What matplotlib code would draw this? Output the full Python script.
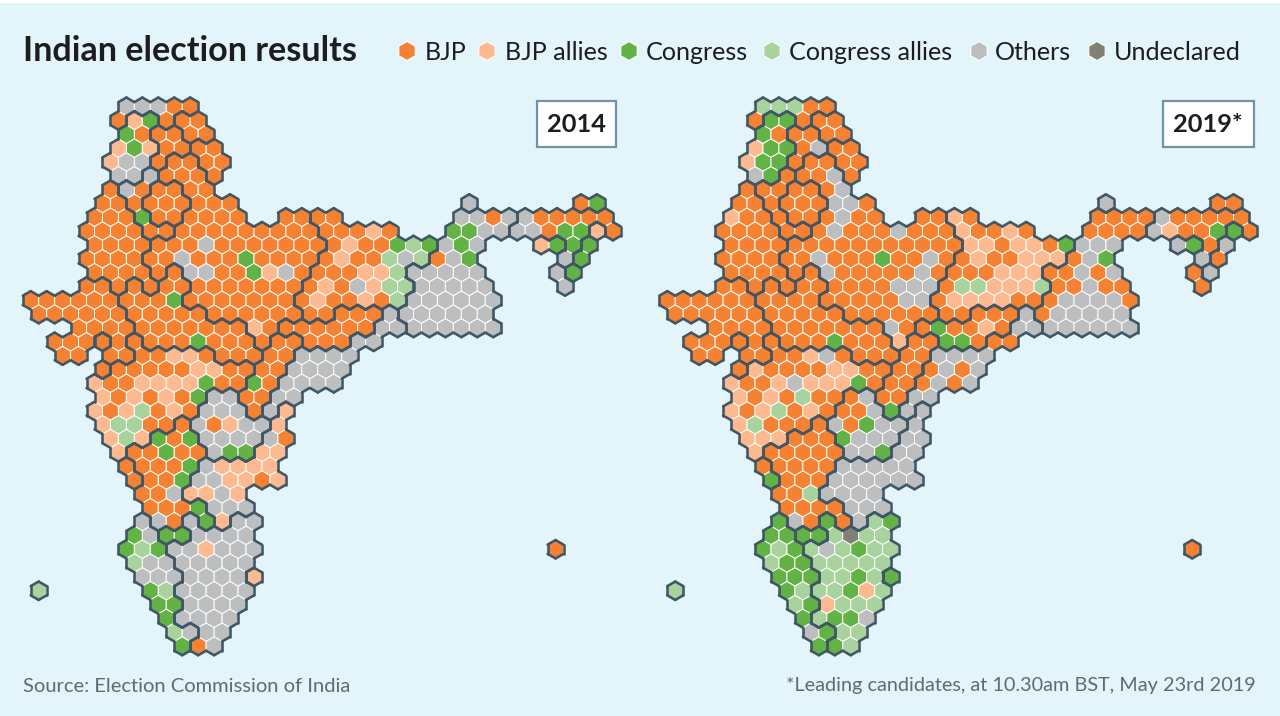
import math
import matplotlib
matplotlib.use("Agg")
import matplotlib.pyplot as plt
from matplotlib.collections import PolyCollection, LineCollection
from matplotlib.patches import Rectangle

TITLE = "Indian election results"
SOURCE = "Source: Election Commission of India"
NOTE = "*Leading candidates, at 10.30am BST, May 23rd 2019"
YEARS = ["2014", "2019*"]

CODES = ["B", "b", "C", "c", "O", "U"]
NAMES = ["BJP", "BJP allies", "Congress", "Congress allies", "Others", "Undeclared"]
COLORS = ["#f58233", "#fdb98f", "#62b246", "#a8d39c", "#bcbec0", "#7f8272"]

# one string per hexagon row; position i is column 2i on even rows, 2i+1 on odd rows
SEATS_2014 = [
    "......OOOBB",
    ".....BbCBBB",
    "......CBBBBB",
    ".....bCbBBBB",
    ".....bOOBBBBB",
    ".....OOOBBBB",
    ".....BOBBBBB",
    "....BBBBBBBBB..............O......BC",
    "....BBBCBBBBBB..BBBB.......OOBOOBBBBB",
    "...BBBBBBBBBBBBBBBBBBbB...CCOOOOBCCbB",
    "....BBBBBBBOBBBBBBBBbBBCcCOCO...bCCC",
    "...BBBBBBOBBBCBBBBBbBBcOcBOC.....OC",
    "....BBBBBBOOBBCbOBBBBbbcOOOOO....OC",
    "...BBBBBBBBBBBBBBBbBObccOOOOO....O",
    "BBBBBBBBBCBBBBBBBBbBBbBcOOOOOO",
    "BBBBBBBBBBBBBBBBBBBBBBOOOOOOO",
    "...BBBBBBBBBBBbBBBBBBBOOOOOOOO",
    ".BBBBBBBBBCBBBBBBBBBOO",
    "..BB.BBBBbbBBBBBBOOOO",
    "....BBBBBBbbBBBBOOOO",
    "....bBBbbbbCBBCBOOOO",
    "....bBbBbBCOOBBOO",
    "....bBbcBbBOOOBOb",
    "....bccBBBOBbOOb",
    ".....bcbCBCOOOOOB",
    ".....bBBCBBOCCbb",
    "......BBBBCObbbb",
    "......BBBCOObbBb",
    ".......BBObbOb",
    ".......BBBCOOO",
    ".......OOBOCbOO",
    "......COCCOOOO",
    "......CcCOObOOO..................B",
    "......cOOOOOOO",
    ".......OOOOOOOb",
    "c......CcOOOOO",
    "........CCOOOO",
    "........COOOO",
    ".........cOOO",
    ".........CBO",
]

SEATS_2019 = [
    "......cccBB",
    ".....BCCBBB",
    "......CBBBBB",
    ".....bCCBOBB",
    ".....bCCBBBBB",
    ".....OCBBBOB",
    ".....BBBBBBO",
    "....BBBBBBOOB..............O......BB",
    "....bBBBBBBOBB..BBbB.......BBBBOBBBBB",
    "...BBBBBBBOBBBOBBBbBBbB...BBBBObBBCCB",
    "....BBBBBBBBBBBBBBBbbBbbBCOOO...OCBO",
    "...BBBBBBOBBBCBBOBBbBBbbbBOC.....OB",
    "....BBBBBBOBBBBBOBBBBbbbBBOBO....BO",
    "...BBBBBBBBBBBOOOBccbbbcBBOBB....B",
    "BBBBBBBBBBBBBBBOOBbbbbBBBOOOOB",
    "BBBBBBBBBBBBBBBBBBBBBBOBOOOOO",
    "...BBBBBBBBBBBOBBCBBbBOOOOOOOO",
    ".BBBBBBBBBCBBBbBBCCBBB",
    "..BB.BBBBbOBBBBBBOOOO",
    "....BbBBBBbbBBBBBOBO",
    "....bBBbObbbCBBBBOBO",
    "....bBbBcBBBOBBOO",
    "....bBbcBbBBBOCOO",
    "....bcBBBBOBCOOO",
    ".....bbbBBBCOOOOO",
    ".....bBBBBBOOCOO",
    "......BBBBBOOOOO",
    "......CBBBOOOOOO",
    ".......BBcOOOO",
    ".......BBBBOOO",
    ".......COBCBOcC",
    "......CCCCcUcc",
    "......CcCcOcCcc..................B",
    "......cCCccccc",
    ".......CCCccCcC",
    "c......CcccCbc",
    "........cCbccc",
    "........CcCCO",
    ".........OCcc",
    ".........CCc",
]

# the state each hexagon belongs to; dark lines run between different states
STATES = [
    "......JJJJJ",
    ".....JPPJHH",
    "......PPQQHH",
    ".....PPPQQUU",
    ".....PPPQWWUU",
    ".....PPAWWWU",
    ".....RAADDWW",
    "....RRADDDWWW..............S......rr",
    "....RRRADDWWWW..WWZZ.......NNNNaaaaaa",
    "...RRRRAAWWWWWWWWWZZZZZ...NNNNaaaaana",
    "....RRRRWWWWWWWWWWWZZZZZZZNNN...mmag",
    "...RRRRWWWWWWWWWWWZZZZZZZNNN.....ag",
    "....RRRRWMWWWWWWWWZZZZZZNNNNN....tz",
    "...GGRMRMMWWWWWWWZZZZZZZNNNNN....t",
    "GGGGGGMMMMWWWWWWWZZZZZZZNNNNNN",
    "GGGGGGMMMMMWWWWWWZZXXXONNNNNN",
    "...GGGGMMMMMMMWWXXXXXXOONNNNNN",
    ".GGG1GKMMMMMMMWTTXXXOO",
    "..GG.GGKKKKKMMMTTOOOO",
    "....2KKKKKKKKKTTOOOO",
    "....KKKKKKKKKKTTOOOO",
    "....KKKKKKKVVTTOO",
    "....KKKKKKKVVVTOY",
    "....KKKKKBVVVVVY",
    ".....KKKBBBVVVVYY",
    ".....KBBBBBVVVYY",
    "......oBBBBYYYYY",
    "......oBBBYYYYYY",
    ".......BBBYYYY",
    ".......BBBBYYY",
    ".......EBBLBYLL",
    "......EEyyLLLL",
    "......EEELLLLLL..................5",
    "......EEELLLLL",
    ".......EEELLLL3",
    "4......EELLLLL",
    "........EELLLL",
    "........ELLLL",
    ".........EELL",
    ".........ELL",
]

BG = "#e4f4fb"
BORDER = "#3f5666"
BOX_EDGE = "#6f94aa"
DARK = "#1d1d1f"
GREY_TEXT = "#5e6b74"
DX, DY = 15.95, 13.83
RADIUS = DX / math.sqrt(3)
MAP_LEFT = [30.7, 667.3]
MAP_TOP = 106.7
ISLAND_SHIFT = {"5": -1.5}
BOXES = [(536.5, 101, 79, 46), (1162.5, 101, 91, 46)]
LEGEND_HEX = [407, 487, 629, 772, 979, 1097]
LEGEND_TEXT = [425, 505, 646, 789, 995, 1114]

plt.rcParams["font.family"] = ["Lato", "DejaVu Sans"]
fig = plt.figure(figsize=(12.8, 7.16), dpi=100, facecolor="white")
ax = fig.add_axes([0, 0, 1, 1])
ax.set_xlim(0, 1280)
ax.set_ylim(716, 0)
ax.axis("off")
ax.add_patch(Rectangle((0, 3), 1280, 713, facecolor=BG, edgecolor="none", zorder=0))


def hexagon(x, y, radius):
    pts = []
    for k in range(6):
        a = math.radians(30 + 60 * k)
        pts.append((x + radius * math.cos(a), y + radius * math.sin(a)))
    return pts


def cells(rows):
    out = {}
    for r, row in enumerate(rows):
        for i, ch in enumerate(row):
            if ch != ".":
                out[(r, 2 * i + (r % 2))] = ch
    return out


state_of = cells(STATES)
NEIGHBOURS = [(0, 2, 0), (1, 1, 60), (1, -1, 120), (0, -2, 180), (-1, -1, 240), (-1, 1, 300)]

for left, seats in zip(MAP_LEFT, [SEATS_2014, SEATS_2019]):
    seat_of = cells(seats)
    polys, fills, segs = [], [], []
    for (r, c), code in seat_of.items():
        st = state_of.get((r, c))
        x = left + c * DX / 2 + ISLAND_SHIFT.get(st, 0)
        y = MAP_TOP + r * DY
        polys.append(hexagon(x, y, RADIUS))
        fills.append(COLORS[CODES.index(code)])
        for dr, dc, angle in NEIGHBOURS:
            if state_of.get((r + dr, c + dc)) != st:
                a0 = math.radians(angle - 30)
                a1 = math.radians(angle + 30)
                segs.append([(x + RADIUS * math.cos(a0), y + RADIUS * math.sin(a0)),
                             (x + RADIUS * math.cos(a1), y + RADIUS * math.sin(a1))])
    ax.add_collection(PolyCollection(polys, facecolors=fills, edgecolors="white",
                                     linewidths=0.7, zorder=2))
    ax.add_collection(LineCollection(segs, colors=BORDER, linewidths=1.85,
                                     capstyle="round", zorder=3))

for (bx, by, bw, bh), label in zip(BOXES, YEARS):
    ax.add_patch(Rectangle((bx, by), bw, bh, facecolor="white", edgecolor=BOX_EDGE,
                           linewidth=1.6, zorder=4))
    ax.text(bx + bw / 2, by + bh / 2 + 0.5, label, ha="center", va="center",
            fontsize=18.3, fontweight="bold", color=DARK, zorder=5)

ax.text(23, 51, TITLE, ha="left", va="center", fontsize=24.6, fontweight="bold", color=DARK)

leg_polys = [hexagon(x, 51, 9.5) for x in LEGEND_HEX]
ax.add_collection(PolyCollection(leg_polys, facecolors=COLORS, edgecolors="white",
                                 linewidths=0.8, zorder=2))
for x, name in zip(LEGEND_TEXT, NAMES):
    ax.text(x, 53, name, ha="left", va="center", fontsize=18.1, color=DARK)

ax.text(23, 686, SOURCE, ha="left", va="center", fontsize=14.5, color=GREY_TEXT)
ax.text(1256, 686, NOTE, ha="right", va="center", fontsize=14.3, color=GREY_TEXT)

fig.savefig("out.png", dpi=100, facecolor="white")
